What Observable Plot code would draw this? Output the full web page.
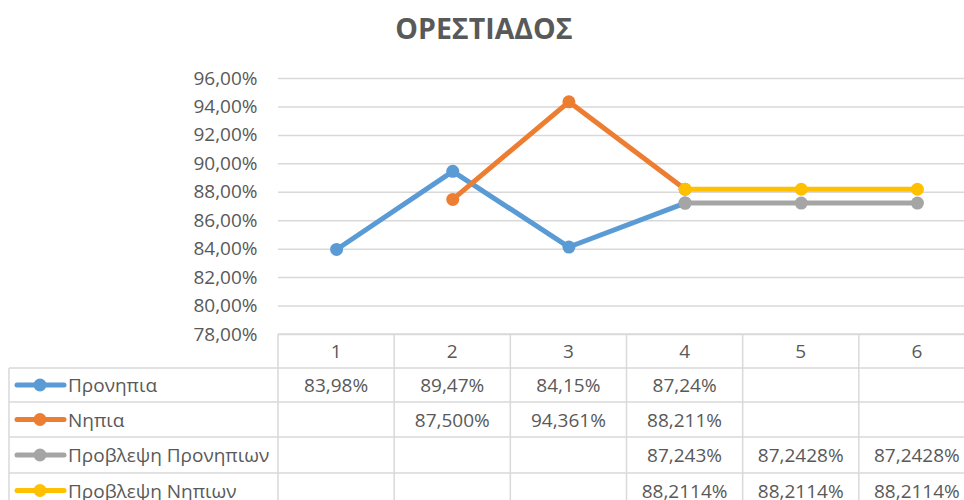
<!DOCTYPE html>
<html>
<head>
<meta charset="utf-8">
<script src="https://cdn.jsdelivr.net/npm/d3@7"></script>
<script src="https://cdn.jsdelivr.net/npm/@observablehq/plot@0.6"></script>
<style>
  html, body { margin: 0; padding: 0; background: #fff; overflow: hidden; }
  #chart svg { display: block; }
</style>
</head>
<body>
<div id="chart"></div>
<script>
const title = "ΟΡΕΣΤΙΑΔΟΣ";
const categories = [1, 2, 3, 4, 5, 6];
const seriesNames = ["Προνηπια", "Νηπια", "Προβλεψη Προνηπιων", "Προβλεψη Νηπιων"];
const seriesColors = ["#5B9BD5", "#ED7D31", "#A5A5A5", "#FFC000"];
const pronipia = [83.98, 89.47, 84.15, 87.24, null, null];
const nipia = [null, 87.5, 94.361, 88.211, null, null];
const provlepsiPronipion = [null, null, null, 87.243, 87.2428, 87.2428];
const provlepsiNipion = [null, null, null, 88.2114, 88.2114, 88.2114];
const tablePronipia = ["83,98%", "89,47%", "84,15%", "87,24%", "", ""];
const tableNipia = ["", "87,500%", "94,361%", "88,211%", "", ""];
const tableProvPronipion = ["", "", "", "87,243%", "87,2428%", "87,2428%"];
const tableProvNipion = ["", "", "", "88,2114%", "88,2114%", "88,2114%"];
const yTicks = [78, 80, 82, 84, 86, 88, 90, 92, 94, 96];

const seriesValues = [pronipia, nipia, provlepsiPronipion, provlepsiNipion];
const tableTexts = [tablePronipia, tableNipia, tableProvPronipion, tableProvNipion];

const toData = (vals) => categories.map((c, i) => ({x: c, y: vals[i]})).filter(d => d.y != null);

const W = 964, H = 500;
const pLeft = 278, pRight = 975, pTop = 78, pBottom = 334;
const colW = (pRight - pLeft) / categories.length;
const rowEdges = [334, 368, 402, 437, 473, 508];
const gridColor = "#D9D9D9";
const textColor = "#595959";
const font = "'Open Sans', sans-serif";
const fs = 19;

const marks = [
  Plot.gridY(yTicks, {stroke: gridColor, strokeOpacity: 1, strokeWidth: 1.5}),
  Plot.axisY(yTicks, {
    tickSize: 0, tickPadding: 21, fontSize: fs, fill: textColor, label: null,
    tickFormat: d => d.toFixed(2).replace(".", ",") + "%"
  })
];
seriesValues.forEach((vals, i) => {
  const data = toData(vals);
  marks.push(Plot.line(data, {x: "x", y: "y", stroke: seriesColors[i], strokeWidth: 5, strokeLinejoin: "round", strokeLinecap: "round"}));
  marks.push(Plot.dot(data, {x: "x", y: "y", fill: seriesColors[i], r: 6.5, stroke: "none"}));
});

const plot = Plot.plot({
  width: W, height: H,
  marginLeft: pLeft, marginRight: W - pRight, marginTop: pTop, marginBottom: H - pBottom,
  style: {fontFamily: font, background: "#fff", overflow: "hidden"},
  x: {domain: [0.5, 6.5], range: [pLeft, pRight], axis: null},
  y: {domain: [78, 96], range: [pBottom, pTop], axis: null},
  marks
});
document.getElementById("chart").appendChild(plot);

const xs = plot.scale("x");
const svg = d3.select(plot);

// Title
svg.append("text")
  .attr("x", 484).attr("y", 28)
  .attr("text-anchor", "middle").attr("dominant-baseline", "central")
  .attr("font-family", font).attr("font-weight", "bold").attr("font-size", 28.5)
  .attr("fill", textColor).text(title);

// Data table
const tbl = svg.append("g");
const edge = (c) => xs.apply(c) - colW / 2;
tbl.append("line").attr("x1", pLeft).attr("x2", pRight).attr("y1", rowEdges[0]).attr("y2", rowEdges[0]);
rowEdges.slice(1).forEach(y => tbl.append("line").attr("x1", 9).attr("x2", pRight).attr("y1", y).attr("y2", y));
categories.forEach(c => tbl.append("line").attr("x1", edge(c)).attr("x2", edge(c)).attr("y1", rowEdges[0]).attr("y2", H));
tbl.append("line").attr("x1", 9).attr("x2", 9).attr("y1", rowEdges[1]).attr("y2", H);
tbl.selectAll("line").attr("stroke", gridColor).attr("stroke-width", 1.5);

const rowMid = (r) => (rowEdges[r] + rowEdges[r + 1]) / 2;
const textStyle = (sel) => sel.attr("font-family", font).attr("font-size", fs).attr("fill", textColor).attr("dominant-baseline", "central");

categories.forEach(c => {
  tbl.append("text").attr("x", xs.apply(c)).attr("y", rowMid(0)).attr("text-anchor", "middle").call(textStyle).text(String(c));
});
tableTexts.forEach((row, r) => {
  const y = rowMid(r + 1);
  tbl.append("line").attr("x1", 17).attr("x2", 64).attr("y1", y).attr("y2", y)
    .attr("stroke", seriesColors[r]).attr("stroke-width", 5).attr("stroke-linecap", "round");
  tbl.append("circle").attr("cx", 40).attr("cy", y).attr("r", 6.5).attr("fill", seriesColors[r]);
  tbl.append("text").attr("x", 68).attr("y", y).attr("text-anchor", "start").call(textStyle).text(seriesNames[r]);
  row.forEach((t, i) => {
    if (t) tbl.append("text").attr("x", xs.apply(categories[i])).attr("y", y).attr("text-anchor", "middle").call(textStyle).text(t);
  });
});
</script>
</body>
</html>
